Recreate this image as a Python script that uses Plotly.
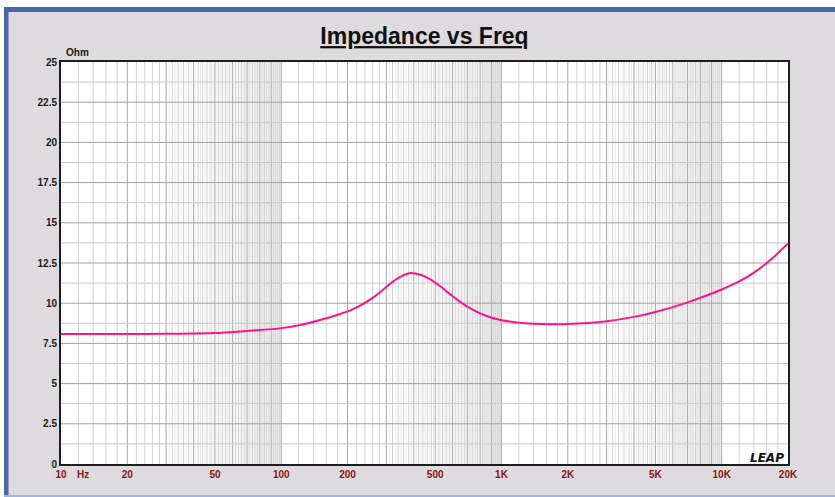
import numpy as np
import plotly.graph_objects as go

# ---- data ----
freq_hz = [10, 20, 30, 50, 72, 100, 122, 150, 185, 206, 230, 254, 282, 313, 345,
           385, 426, 475, 527, 586, 651, 722, 850, 990, 1200, 1670, 2000, 3000,
           4000, 5000, 7000, 10000, 12000, 14000, 17000, 20000]
impedance_ohm = [8.08, 8.08, 8.10, 8.14, 8.29, 8.45, 8.64, 8.95, 9.33, 9.55, 9.88,
                 10.24, 10.70, 11.22, 11.62, 11.88, 11.78, 11.48, 11.05, 10.55,
                 10.07, 9.68, 9.22, 8.96, 8.79, 8.69, 8.70, 8.88, 9.15, 9.45,
                 10.05, 10.85, 11.35, 11.90, 12.80, 13.72]

x_tick_vals = [10, 20, 50, 100, 200, 500, 1000, 2000, 5000, 10000, 20000]
x_tick_text = ["10", "20", "50", "100", "200", "500", "1K", "2K", "5K", "10K", "20K"]
y_tick_vals = [0, 2.5, 5, 7.5, 10, 12.5, 15, 17.5, 20, 22.5, 25]
y_tick_text = ["0", "2.5", "5", "7.5", "10", "12.5", "15", "17.5", "20", "22.5", "25"]

W, H = 835, 497
L, R, T, B = 61, 47, 62, 33
PW, PH = W - L - R, H - T - B

BG = "#dddbde"
BLUE = "#4767a8"
CURVE = "#ff1488"

fig = go.Figure()

# ---- grid lines (LEAP style) ----
dark_v, mid_v, light_v = [], [], []
for D in [10, 100, 1000]:
    for k in range(2, 11):
        dark_v.append(k * D)
    for t in range(11, 30):
        if t % 10 == 0:
            continue
        if t % 2 == 0:
            mid_v.append(t * D / 10)
    for t in range(31, 100):
        if t % 10 == 0:
            continue
        if t % 2 == 0:
            mid_v.append(t * D / 10)
        else:
            light_v.append(t * D / 10)
for v in [12000, 14000, 16000, 18000]:
    mid_v.append(v)

def vlines(vals):
    xs, ys = [], []
    for v in vals:
        xs += [v, v, None]
        ys += [0, 25, None]
    return xs, ys

def hlines(vals):
    xs, ys = [], []
    for v in vals:
        xs += [10, 20000, None]
        ys += [v, v, None]
    return xs, ys

for vals, col in [(light_v, "#ececec"), (mid_v, "#d2d2d2"), (dark_v, "#a8a8a8")]:
    xs, ys = vlines(vals)
    fig.add_trace(go.Scatter(x=xs, y=ys, mode="lines", line=dict(color=col, width=1),
                             hoverinfo="skip", showlegend=False))

minor_h = [1.25 + 2.5 * i for i in range(10)]
major_h = [2.5 * i for i in range(1, 10)]
for vals, col in [(minor_h, "#c8c8c8"), (major_h, "#a0a0a0")]:
    xs, ys = hlines(vals)
    fig.add_trace(go.Scatter(x=xs, y=ys, mode="lines", line=dict(color=col, width=1),
                             hoverinfo="skip", showlegend=False))

# ---- curve ----
fig.add_trace(go.Scatter(x=freq_hz, y=impedance_ohm, mode="lines",
                         line=dict(color=CURVE, width=2, shape="spline", smoothing=0.8),
                         hoverinfo="x+y", showlegend=False))

def px_x(px):
    return (px - L) / PW

def px_y(py):
    return (H - B - py) / PH

shapes = [
    dict(type="rect", xref="paper", yref="paper", x0=px_x(-5), x1=px_x(W + 5),
         y0=px_y(7), y1=px_y(-5), fillcolor="white", line_width=0, layer="above"),
    dict(type="rect", xref="paper", yref="paper", x0=px_x(-5), x1=px_x(W + 5),
         y0=px_y(12), y1=px_y(7), fillcolor=BLUE, line_width=0, layer="above"),
    dict(type="rect", xref="paper", yref="paper", x0=px_x(-5), x1=px_x(4),
         y0=px_y(H + 5), y1=px_y(7), fillcolor="white", line_width=0, layer="above"),
    dict(type="rect", xref="paper", yref="paper", x0=px_x(4), x1=px_x(8.5),
         y0=px_y(H + 5), y1=px_y(7), fillcolor=BLUE, line_width=0, layer="above"),
    dict(type="rect", xref="paper", yref="paper", x0=px_x(4), x1=px_x(W + 5),
         y0=px_y(H + 5), y1=px_y(495), fillcolor="#9fb3dc", line_width=0, layer="above"),
]

annotations = [
    dict(text="<b>Ohm</b>", xref="paper", yref="paper", x=px_x(64), y=px_y(52),
         xanchor="left", yanchor="middle", showarrow=False,
         font=dict(family="Liberation Sans", size=10, color="#1a1a1a")),
    dict(text="<b>Hz</b>", xref="paper", yref="paper", x=px_x(75), y=px_y(474),
         xanchor="left", yanchor="middle", showarrow=False,
         font=dict(family="Liberation Sans", size=10, color="#8b1414")),
    dict(text="<b><i>LEAP</i></b>", xref="paper", yref="paper", x=px_x(786), y=px_y(458),
         xanchor="right", yanchor="middle", showarrow=False,
         font=dict(family="DejaVu Sans", size=12, color="#111111")),
]

fig.update_layout(
    width=W, height=H,
    margin=dict(l=L, r=R, t=T, b=B),
    paper_bgcolor=BG, plot_bgcolor="white",
    title=dict(text="<b><u>Impedance vs Freq</u></b>", xref="container", yref="container",
               x=424.5 / W, y=1 - 36 / H, xanchor="center", yanchor="middle",
               font=dict(family="Liberation Sans", size=23, color="#111111")),
    shapes=shapes, annotations=annotations,
    xaxis=dict(type="log", range=[1, np.log10(20000)], tickvals=x_tick_vals,
               ticktext=x_tick_text, showgrid=False, zeroline=False, ticks="",
               showline=True, mirror=True, linecolor="#1e1e1e", linewidth=2,
               tickfont=dict(family="Liberation Sans", size=10, color="#8b1414", weight="bold")),
    yaxis=dict(range=[0, 25], tickvals=y_tick_vals, ticktext=y_tick_text,
               showgrid=False, zeroline=False, ticks="",
               showline=True, mirror=True, linecolor="#1e1e1e", linewidth=2,
               tickfont=dict(family="Liberation Sans", size=10, color="#1a1a1a", weight="bold")),
)

fig.write_html("out.html", post_script="document.body.style.margin='0';",
               config={"displayModeBar": False})
